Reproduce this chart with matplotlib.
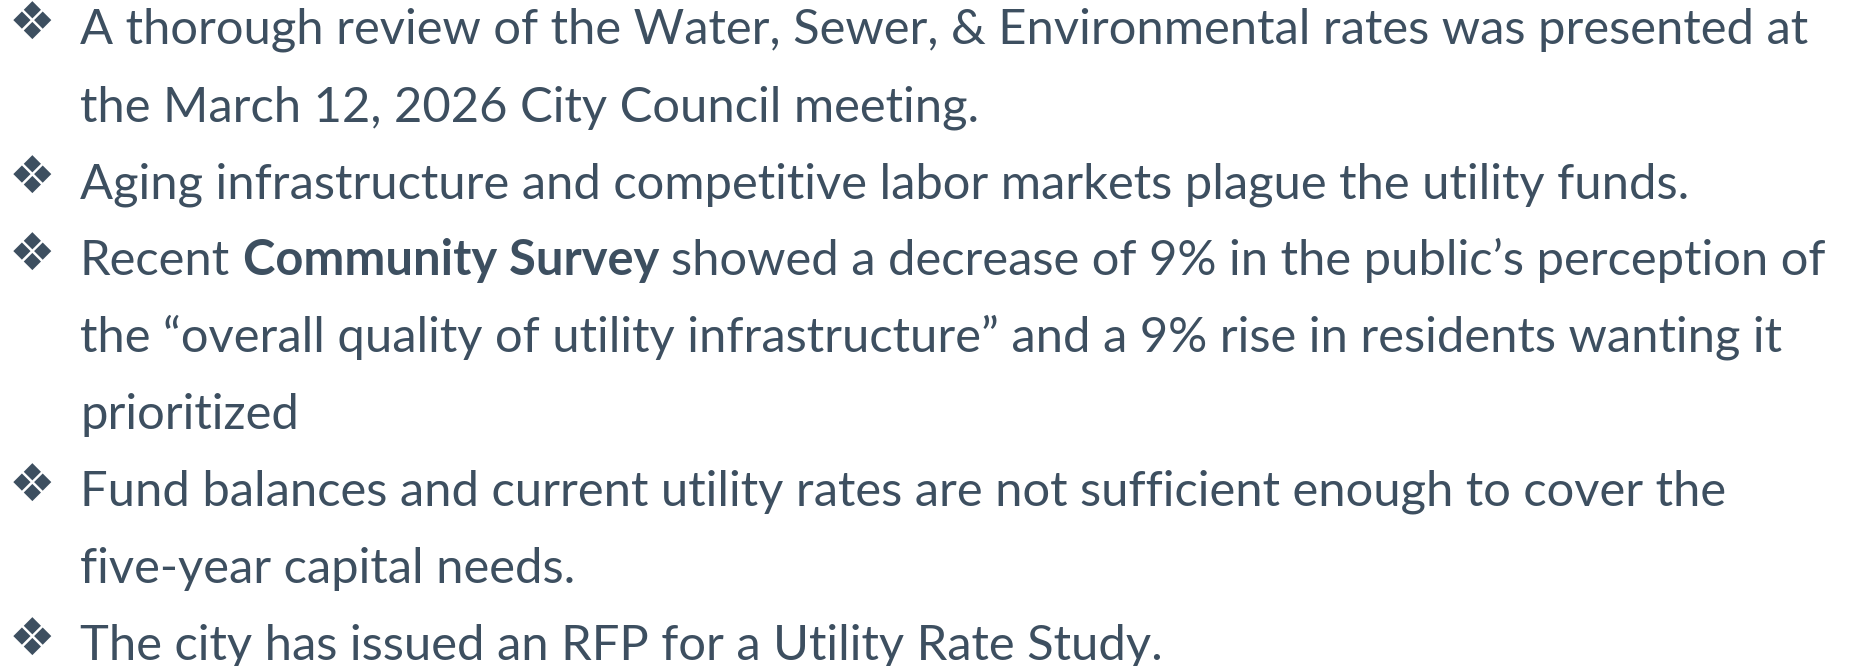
import matplotlib
matplotlib.use("Agg")
import matplotlib.pyplot as plt

# slide text, one entry per visual line: (has_bullet, [(text, bold), ...])
lines = [
    (True,  [("A thorough review of the Water, Sewer, & Environmental rates was presented at", False)]),
    (False, [("the March 12, 2026 City Council meeting.", False)]),
    (True,  [("Aging infrastructure and competitive labor markets plague the utility funds.", False)]),
    (True,  [("Recent", False), ("Community Survey", True),
             ("showed a decrease of 9% in the public\u2019s perception of", False)]),
    (False, [("the \u201coverall quality of utility infrastructure\u201d and a 9% rise in residents wanting it", False)]),
    (False, [("prioritized", False)]),
    (True,  [("Fund balances and current utility rates are not sufficient enough to cover the", False)]),
    (False, [("five-year capital needs.", False)]),
    (True,  [("The city has issued an RFP for a Utility Rate Study.", False)]),
]

BULLET = "\u2756"
COLOR = "#3D4F60"
FONT = "Lato"

W, H = 1854, 666
fig = plt.figure(figsize=(W / 100, H / 100), dpi=100)
fig.patch.set_facecolor("white")
r = fig.canvas.get_renderer()

def width_px(s, size, weight="normal", family=FONT):
    t = fig.text(0, 0, s, fontsize=size, fontweight=weight, family=family)
    w = t.get_window_extent(r).width
    t.remove()
    return w

# fit the font size so the first line spans the same width as in the slide
ref = lines[0][1][0][0]
fs = 10 * 1729 / width_px(ref, 10)
space = width_px("a a", fs) - width_px("aa", fs)

# bullet glyph a bit larger than the measured box suggests
bfs = 10 * 39 / width_px(BULLET, 10, family="DejaVu Sans") * 1.2

x0, base0, step = 80, 44, 77
for i, (bul, parts) in enumerate(lines):
    yb = base0 + i * step
    if bul:
        fig.text(32 / W, 1 - (yb - 19) / H, BULLET, fontsize=bfs, color=COLOR,
                 family="DejaVu Sans", ha="center", va="center")
    x = x0
    for j, (s, bold) in enumerate(parts):
        wt = "bold" if bold else "normal"
        fig.text(x / W, 1 - yb / H, s, fontsize=fs, fontweight=wt, color=COLOR,
                 family=FONT, ha="left", va="baseline")
        x += width_px(s, fs, wt) + space

fig.savefig("out.png", dpi=100, facecolor="white")
